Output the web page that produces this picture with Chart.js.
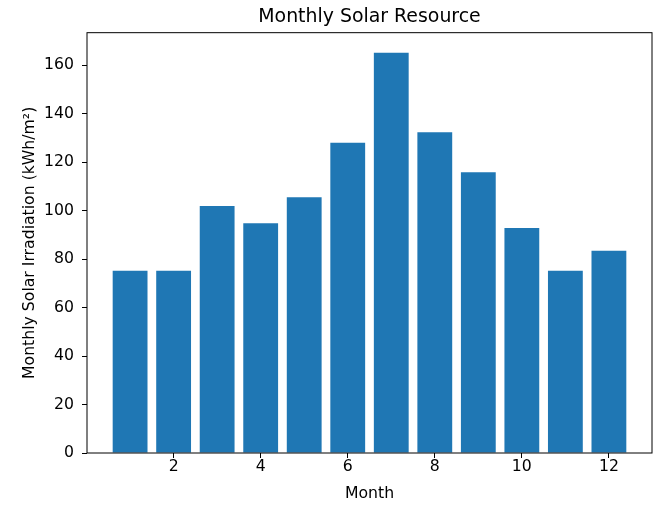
<!DOCTYPE html>
<html>
<head>
<meta charset="utf-8">
<script src="https://cdn.jsdelivr.net/npm/chart.js@4"></script>
<style>
    html, body { margin: 0; padding: 0; background: #fff; font-family: 'DejaVu Sans'; }
    #wrap { width: 660px; height: 507px; }
</style>
</head>
<body>
<div id="wrap"><canvas id="solarChart" width="660" height="507"></canvas></div>
<script>
// months and monthly irradiation
var months = [1, 2, 3, 4, 5, 6, 7, 8, 9, 10, 11, 12];
var irradiation = [75.2, 75.2, 101.9, 94.8, 105.5, 128.0, 165.1, 132.3, 115.8, 92.8, 75.2, 83.4];
var xTicks = [2, 4, 6, 8, 10, 12];
var yTicks = [0, 20, 40, 60, 80, 100, 120, 140, 160];

var fontName = 'DejaVu Sans';
Chart.defaults.font.family = fontName;

// matplotlib-like frame around the plot area
var framePlugin = {
    id: 'frame',
    afterDraw: function(chart) {
        var a = chart.chartArea;
        var ctx = chart.ctx;
        ctx.save();
        ctx.strokeStyle = '#000';
        ctx.lineWidth = 1;
        ctx.strokeRect(a.left, a.top, a.right - a.left, a.bottom - a.top);
        ctx.restore();
    }
};

document.addEventListener('DOMContentLoaded', function() {
    var cont = document.getElementById('solarChart').getContext('2d');
    var myChart = new Chart(cont, {
        type: 'bar',
        data: {
            datasets: [{
                label: '',
                data: months.map(function(m, i) { return {x: m, y: irradiation[i]}; }),
                backgroundColor: '#1f77b4',
                borderWidth: 0,
                barPercentage: 0.8,
                categoryPercentage: 1.0
            }]
        },
        options: {
            responsive: false,
            animation: false,
            events: [],
            layout: {
                padding: {left: 0, right: 8, top: 0, bottom: 0}
            },
            scales: {
                x: {
                    type: 'linear',
                    min: 0.01,
                    max: 12.99,
                    offset: false,
                    afterBuildTicks: function(scale) {
                        scale.ticks = xTicks.map(function(v) { return {value: v}; });
                    },
                    afterFit: function(scale) { scale.height = 54; },
                    grid: {
                        offset: false,
                        drawOnChartArea: false,
                        drawTicks: true,
                        tickLength: 5,
                        color: '#000'
                    },
                    border: { display: false },
                    ticks: {
                        color: '#000',
                        padding: 0,
                        maxRotation: 0,
                        font: {family: fontName, size: 15.7}
                    },
                    title: {
                        display: true,
                        text: 'Month',
                        color: '#000',
                        padding: {top: 21, bottom: 4},
                        font: {family: fontName, size: 15.7}
                    }
                },
                y: {
                    min: 0,
                    max: 173.4,
                    afterBuildTicks: function(scale) {
                        scale.ticks = yTicks.map(function(v) { return {value: v}; });
                    },
                    afterFit: function(scale) { scale.width = 87; },
                    grid: {
                        drawOnChartArea: false,
                        drawTicks: true,
                        tickLength: 5,
                        color: '#000'
                    },
                    border: { display: false },
                    ticks: {
                        color: '#000',
                        padding: 8,
                        font: {family: fontName, size: 15.7}
                    },
                    title: {
                        display: true,
                        text: 'Monthly Solar Irradiation (kWh/m²)',
                        color: '#000',
                        padding: {top: 21, bottom: 4},
                        font: {family: fontName, size: 15.7}
                    }
                }
            },
            plugins: {
                legend: { display: false },
                tooltip: { enabled: false },
                title: {
                    display: true,
                    fullSize: false,
                    text: 'Monthly Solar Resource',
                    color: '#000',
                    padding: {top: 6, bottom: 4},
                    font: {family: fontName, size: 18.9, weight: 'normal', lineHeight: 1.2}
                }
            }
        },
        plugins: [framePlugin]
    });
});
</script>
</body>
</html>
